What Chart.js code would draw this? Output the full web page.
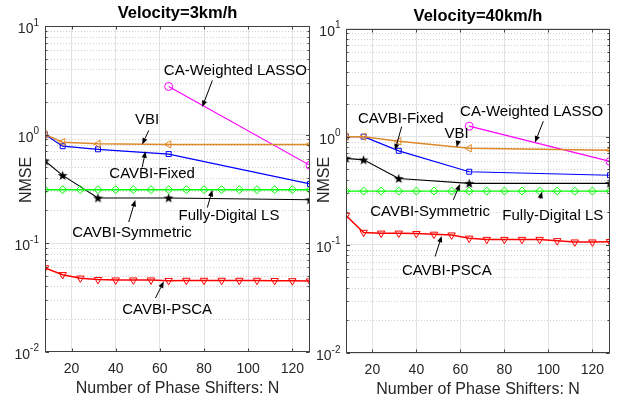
<!DOCTYPE html>
<html><head><meta charset="utf-8">
<script src="https://cdn.jsdelivr.net/npm/chart.js@4.4.0/dist/chart.umd.min.js"></script>
<style>
html,body{margin:0;padding:0;background:#fff;}
#wrap{position:relative;width:623px;height:405px;overflow:hidden;background:#fff;}
canvas{position:absolute;top:0;}
</style></head><body>
<div id="wrap">
<canvas id="c1" width="318" height="405" style="left:0;width:318px;height:405px"></canvas>
<canvas id="c2" width="313" height="405" style="left:310px;width:313px;height:405px"></canvas>
</div>
<script>
// ---------- data ----------
const nAll = [8,16,24,32,40,48,56,64,72,80,88,96,104,112,120,128];
const nSparse = [8,16,32,64,128];
const nLasso = [64,128];
const xTickLabels = [20,40,60,80,100,120];
const yTickValues = [0.01,0.1,1,10];
const yTickExponents = ['-2','-1','0','1'];
const seriesNames = ['VBI','CAVBI-Fixed','CA-Weighted LASSO','Fully-Digital LS','CAVBI-Symmetric','CAVBI-PSCA'];

// Velocity = 3 km/h
const vbi3   = [1.0, 0.85, 0.82, 0.81, 0.81];
const fixed3 = [1.0, 0.78, 0.73, 0.66, 0.35];
const lasso3 = [2.77, 0.52];
const ls3    = [0.31,0.31,0.31,0.31,0.31,0.31,0.31,0.31,0.31,0.31,0.31,0.31,0.31,0.31,0.31,0.31];
const sym3   = [0.57, 0.42, 0.26, 0.26, 0.25];
const psca3  = [0.059,0.051,0.0474,0.046,0.0455,0.0455,0.0455,0.045,0.0452,0.0452,0.0452,0.0452,0.0452,0.045,0.0448,0.0446];

// Velocity = 40 km/h
const vbi40   = [1.0, 1.0, 0.905, 0.78, 0.75];
const fixed40 = [1.0, 1.0, 0.74, 0.474, 0.44];
const lasso40 = [1.25, 0.59];
const ls40    = [0.314,0.314,0.314,0.314,0.314,0.314,0.314,0.314,0.314,0.314,0.314,0.314,0.314,0.314,0.314,0.314];
const sym40   = [0.63, 0.61, 0.41, 0.37, 0.37];
const psca40  = [0.187,0.13,0.128,0.128,0.127,0.125,0.123,0.115,0.112,0.112,0.112,0.112,0.109,0.106,0.106,0.107];

// ---------- annotations (text + arrow, in data coordinates) ----------
const notes3 = [
  {text:'CA-Weighted LASSO', at:[94.2,3.83], from:[83.8,3.15], to:[79.2,1.79]},
  {text:'VBI', at:[54.2,1.35], from:[55,1.09], to:[52,0.81]},
  {text:'CAVBI-Fixed', at:[56.5,0.434], from:[52,0.497], to:[53.5,0.70]},
  {text:'Fully-Digital LS', at:[91.3,0.177], from:[81.5,0.212], to:[83.8,0.308]},
  {text:'CAVBI-Symmetric', at:[47.4,0.123], from:[45.9,0.156], to:[48.9,0.249]},
  {text:'CAVBI-PSCA', at:[63.3,0.0244], from:[58,0.0311], to:[61.8,0.0442]}
];
const notes40 = [
  {text:'CAVBI-Fixed', at:[32.9,1.46], from:[33.3,1.24], to:[30.3,0.747]},
  {text:'VBI', at:[58.3,1.07], from:[59,0.909], to:[58.3,0.80]},
  {text:'CA-Weighted LASSO', at:[92.4,1.68], from:[97.7,1.39], to:[93.9,0.885]},
  {text:'CAVBI-Symmetric', at:[46.2,0.201], from:[56.8,0.261], to:[59.8,0.365]},
  {text:'Fully-Digital LS', at:[102,0.187], from:[96.2,0.267], to:[97.1,0.31]},
  {text:'CAVBI-PSCA', at:[53.8,0.0574], from:[48.5,0.078], to:[51.5,0.121]}
];

const FONT = '"Liberation Sans", Arial, Helvetica, sans-serif';
const COL = {vbi:'#DD8A2A', fixed:'#0000FF', lasso:'#FF00FF', ls:'#00FF00', sym:'#000000', psca:'#FF0000'};

function makeStar(){
  const c=document.createElement('canvas'); c.width=11; c.height=11;
  const g=c.getContext('2d'); g.fillStyle='#000'; g.beginPath();
  for(let i=0;i<10;i++){
    const r=i%2?2.1:5.2; const a=-Math.PI/2+i*Math.PI/5;
    const px=5.5+r*Math.cos(a), py=5.9+r*Math.sin(a);
    if(i) g.lineTo(px,py); else g.moveTo(px,py);
  }
  g.closePath(); g.fill(); return c;
}
const STAR = makeStar();

function ds(label, xs, ys, color, style, rot, width, radius){
  return {label, data: xs.map((x,i)=>({x:x, y:ys[i]})),
    borderColor: color, backgroundColor:'rgba(0,0,0,0)',
    pointBorderColor: color, pointBackgroundColor:'rgba(0,0,0,0)',
    pointStyle: style, pointRotation: rot||0, pointRadius: radius||3.8, pointBorderWidth: 1,
    borderWidth: width||1.2, tension:0, fill:false};
}

function buildSets(vbi, fixed, lasso, ls, sym, psca){
  return [
    ds(seriesNames[0], nSparse, vbi, COL.vbi, 'triangle', -90, 1.5, 4.3),
    ds(seriesNames[1], nSparse, fixed, COL.fixed, 'rect', 0, 1.2, 3.5),
    ds(seriesNames[2], nLasso, lasso, COL.lasso, 'circle', 0, 1.2, 4),
    ds(seriesNames[3], nAll, ls, COL.ls, 'rectRot', 0, 1.4, 4),
    ds(seriesNames[4], nSparse, sym, COL.sym, STAR, 0, 1.1, 4),
    ds(seriesNames[5], nAll, psca, COL.psca, 'triangle', 180, 1.5, 4.3)
  ];
}

function arrow(ctx, x1, y1, x2, y2){
  const ang=Math.atan2(y2-y1,x2-x1), L=6.5, W=2.6;
  const bx=x2-L*Math.cos(ang), by=y2-L*Math.sin(ang);
  ctx.beginPath(); ctx.moveTo(x1,y1); ctx.lineTo(bx,by); ctx.stroke();
  ctx.beginPath(); ctx.moveTo(x2,y2);
  ctx.lineTo(bx+W*Math.sin(ang), by-W*Math.cos(ang));
  ctx.lineTo(bx-W*Math.sin(ang), by+W*Math.cos(ang));
  ctx.closePath(); ctx.fill();
}

const matlabPlugin = {
  id:'matlab',
  beforeDatasetsDraw(chart, args, o){
    const {ctx, chartArea:a, scales:{y}} = chart;
    ctx.save(); ctx.strokeStyle='#cfcfcf'; ctx.lineWidth=1; ctx.setLineDash([1,2]);
    for(let k=-2;k<1;k++) for(let m=2;m<10;m++){
      const py=Math.round(y.getPixelForValue(m*Math.pow(10,k)))+0.5;
      ctx.beginPath(); ctx.moveTo(a.left,py); ctx.lineTo(a.right,py); ctx.stroke();
    }
    ctx.restore();
  },
  afterDraw(chart, args, o){
    const {ctx, chartArea:a, scales:{x,y}} = chart;
    ctx.save();
    // box
    ctx.strokeStyle='#404040'; ctx.lineWidth=1;
    const L=Math.round(a.left)+0.5, R=Math.round(a.right)-0.5, T=Math.round(a.top)+0.5, B=Math.round(a.bottom)-0.5;
    ctx.strokeRect(L,T,R-L,B-T);
    // ticks
    ctx.beginPath();
    xTickLabels.forEach(v=>{const px=Math.round(x.getPixelForValue(v))+0.5; ctx.moveTo(px,B); ctx.lineTo(px,B-3); ctx.moveTo(px,T); ctx.lineTo(px,T+3);});
    yTickValues.forEach(v=>{const py=Math.round(y.getPixelForValue(v))+0.5; ctx.moveTo(L,py); ctx.lineTo(L+3.5,py); ctx.moveTo(R,py); ctx.lineTo(R-3.5,py);});
    for(let k=-2;k<1;k++) for(let m=2;m<10;m++){
      const py=Math.round(y.getPixelForValue(m*Math.pow(10,k)))+0.5;
      ctx.moveTo(L,py); ctx.lineTo(L+2,py); ctx.moveTo(R,py); ctx.lineTo(R-2,py);
    }
    ctx.stroke();
    // y tick labels 10^k
    ctx.fillStyle='#262626'; ctx.textBaseline='alphabetic';
    yTickValues.forEach((v,i)=>{
      const py=y.getPixelForValue(v);
      ctx.font='10px '+FONT; ctx.textAlign='right';
      const ew=ctx.measureText(yTickExponents[i]).width;
      const er=a.left-o.yLabelGap;
      ctx.fillText(yTickExponents[i], er, py-0.5);
      ctx.font='14px '+FONT;
      ctx.fillText('10', er-ew, py+7);
    });
    // titles
    ctx.fillStyle='#000'; ctx.textAlign='center'; ctx.textBaseline='middle';
    ctx.font='bold 16.5px '+FONT;
    ctx.fillText(o.title, (a.left+a.right)/2, a.top-12.5);
    ctx.fillStyle='#262626'; ctx.font='16px '+FONT;
    ctx.fillText(o.xLabel, (a.left+a.right)/2, a.bottom+37);
    ctx.save(); ctx.translate(o.yLabelX, 180); ctx.rotate(-Math.PI/2);
    ctx.fillText(o.yLabel, 0, 0); ctx.restore();
    // annotations
    ctx.fillStyle='#000'; ctx.strokeStyle='#000'; ctx.lineWidth=1;
    ctx.font='15px '+FONT;
    o.notes.forEach(n=>{
      ctx.fillText(n.text, x.getPixelForValue(n.at[0]), y.getPixelForValue(n.at[1]));
      arrow(ctx, x.getPixelForValue(n.from[0]), y.getPixelForValue(n.from[1]),
                 x.getPixelForValue(n.to[0]), y.getPixelForValue(n.to[1]));
    });
    ctx.restore();
  }
};

function makeChart(id, cfg){
  return new Chart(document.getElementById(id), {
    type:'line',
    data:{datasets: cfg.datasets},
    options:{
      responsive:false, animation:false, devicePixelRatio:1,
      layout:{padding:{left:0, right:cfg.padRight, top:cfg.padTop, bottom:0}},
      plugins:{legend:{display:false}, tooltip:{enabled:false}, title:{display:false}, matlab: cfg.plugin},
      scales:{
        x:{type:'linear', min:8, max:128,
          afterBuildTicks:s=>{ s.ticks = xTickLabels.map(v=>({value:v})); },
          afterFit:s=>{ s.height = cfg.xHeight; },
          grid:{color:'#e2e2e2', drawTicks:false, lineWidth:1},
          border:{display:false},
          ticks:{font:{family:FONT, size:14}, color:'#262626', padding:9, maxRotation:0, autoSkip:false}
        },
        y:{type:'logarithmic', min:0.01, max:10,
          afterBuildTicks:s=>{ s.ticks = yTickValues.map(v=>({value:v, major:true})); },
          afterFit:s=>{ s.width = cfg.yWidth; },
          grid:{color:'#e2e2e2', drawTicks:false, lineWidth:1},
          border:{display:false},
          ticks:{display:false}
        }
      }
    },
    plugins:[matlabPlugin]
  });
}

makeChart('c1', {
  datasets: buildSets(vbi3, fixed3, lasso3, ls3, sym3, psca3),
  padRight: 8, padTop: 26, xHeight: 53.5, yWidth: 45,
  plugin: {title:'Velocity=3km/h', xLabel:'Number of Phase Shifters: N', yLabel:'NMSE', yLabelX:26.7, yLabelGap:6, notes:notes3}
});
makeChart('c2', {
  datasets: buildSets(vbi40, fixed40, lasso40, ls40, sym40, psca40),
  padRight: 13, padTop: 28.5, xHeight: 52, yWidth: 36,
  plugin: {title:'Velocity=40km/h', xLabel:'Number of Phase Shifters: N', yLabel:'NMSE', yLabelX:15, yLabelGap:5.5, notes:notes40}
});
</script>
</body></html>
